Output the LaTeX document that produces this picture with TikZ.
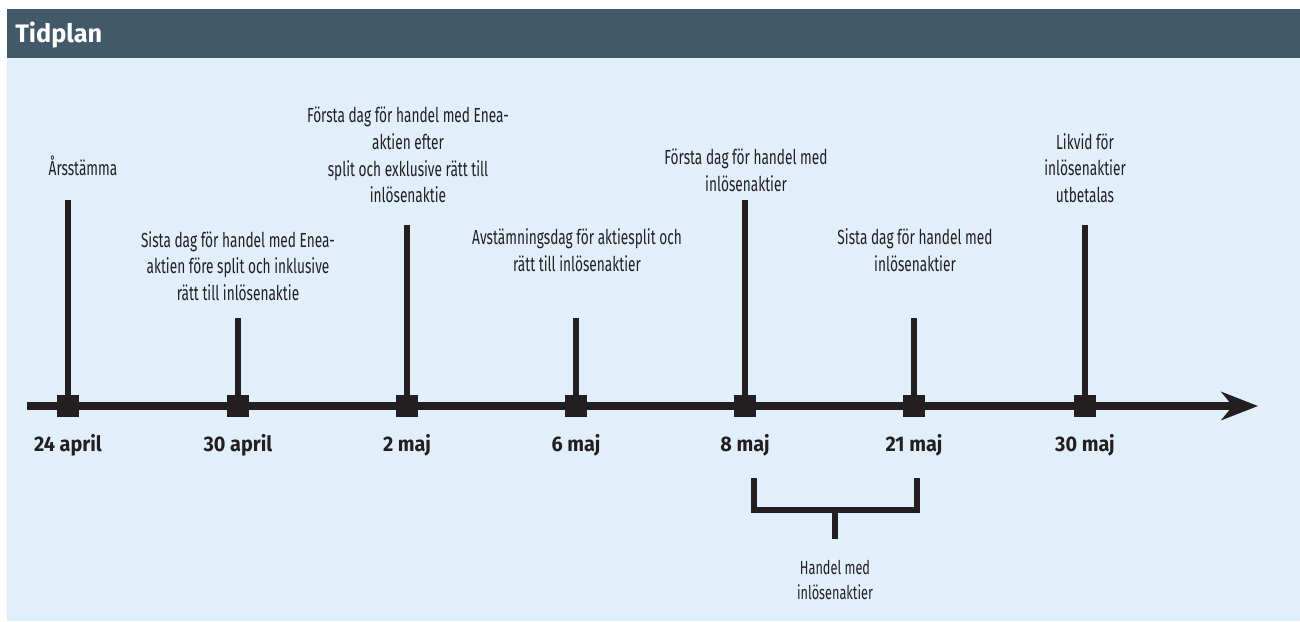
\documentclass[tikz,border=0pt]{standalone}
\usepackage{fontspec}
\setmainfont{Fira Sans}[FakeStretch=0.67]
\newfontfamily\rubrikfont{Fira Sans}
\newfontfamily\datumfont{Fira Sans}[FakeStretch=0.94]
\usetikzlibrary{arrows.meta}
\definecolor{rubrikbla}{HTML}{42596A}
\definecolor{bakgrund}{HTML}{E1EFFB}
\definecolor{linje}{HTML}{231F20}

\begin{document}
\begin{tikzpicture}[x=0.025cm,y=-0.025cm,
  etikett/.style={align=center,inner sep=0pt,text=linje,font=\fontsize{14.5}{19}\selectfont},
  datum/.style={anchor=base,inner sep=0pt,text=linje,font=\datumfont\bfseries\fontsize{15}{18}\selectfont},
  ruta/.style={fill=linje,inner sep=0pt,minimum size=15pt},
  stolpe/.style={draw=linje,line width=3.6pt}]
% bakgrund och rubrik
\useasboundingbox (0,0) rectangle (1300,621);
\fill[bakgrund] (7,58) rectangle (1300,621);
\fill[rubrikbla] (7,9) rectangle (1300,58);
\node[anchor=base west,inner sep=0pt,text=white,font=\rubrikfont\bfseries\fontsize{18}{20}\selectfont] (rubrik) at (15,42) {Tidplan};

% tidslinje
\coordinate (start) at (27,406);
\coordinate (spets) at (1258,406);
\draw[draw=linje,line width=5.7pt,-{Stealth[length=26pt,width=20pt,inset=8pt]}] (start) -- (spets);

% datumrutor
\node[ruta] (r1) at (68,406) {};
\node[ruta] (r2) at (238,406) {};
\node[ruta] (r3) at (407,406) {};
\node[ruta] (r4) at (576,406) {};
\node[ruta] (r5) at (745,406) {};
\node[ruta] (r6) at (914,406) {};
\node[ruta] (r7) at (1085,406) {};

% stolpar
\coordinate (s1) at (68,200);
\coordinate (s2) at (238,318);
\coordinate (s3) at (407,225);
\coordinate (s4) at (576,318);
\coordinate (s5) at (745,200);
\coordinate (s6) at (914,318);
\coordinate (s7) at (1085,225);
\draw[stolpe] (s1) -- (r1);
\draw[stolpe] (s2) -- (r2);
\draw[stolpe] (s3) -- (r3);
\draw[stolpe] (s4) -- (r4);
\draw[stolpe] (s5) -- (r5);
\draw[stolpe] (s6) -- (r6);
\draw[stolpe] (s7) -- (r7);

% datum
\node[datum] (d1) at (68,451) {24 april};
\node[datum] (d2) at (238,451) {30 april};
\node[datum] (d3) at (407,451) {2 maj};
\node[datum] (d4) at (576,451) {6 maj};
\node[datum] (d5) at (745,451) {8 maj};
\node[datum] (d6) at (914,451) {21 maj};
\node[datum] (d7) at (1085,451) {30 maj};

% händelser
\node[etikett] (e1) at (83,166) {Årsstämma};
\node[etikett] (e2) at (238,266) {Sista dag för handel med Enea-\\aktien före split och inklusive\\rätt till inlösenaktie};
\node[etikett] (e3) at (408,155) {Första dag för handel med Enea-\\aktien efter\\split och exklusive rätt till\\inlösenaktie};
\node[etikett] (e4) at (577,250) {Avstämningsdag för aktiesplit och\\rätt till inlösenaktier};
\node[etikett] (e5) at (746,170) {Första dag för handel med\\inlösenaktier};
\node[etikett] (e6) at (915,250) {Sista dag för handel med\\inlösenaktier};
\node[etikett] (e7) at (1085,168) {Likvid för\\inlösenaktier\\utbetalas};

% handelsperiod
\coordinate (kv) at (754,478);
\coordinate (kh) at (917,478);
\coordinate (km) at (835,510);
\coordinate (ks) at (835,539);
\draw[stolpe] (kv) |- (km) -| (kh);
\draw[stolpe] (km) -- (ks);
\node[etikett,font=\fontsize{13.5}{18}\selectfont] (handel) at (835,580) {Handel med\\inlösenaktier};
\end{tikzpicture}
\end{document}
